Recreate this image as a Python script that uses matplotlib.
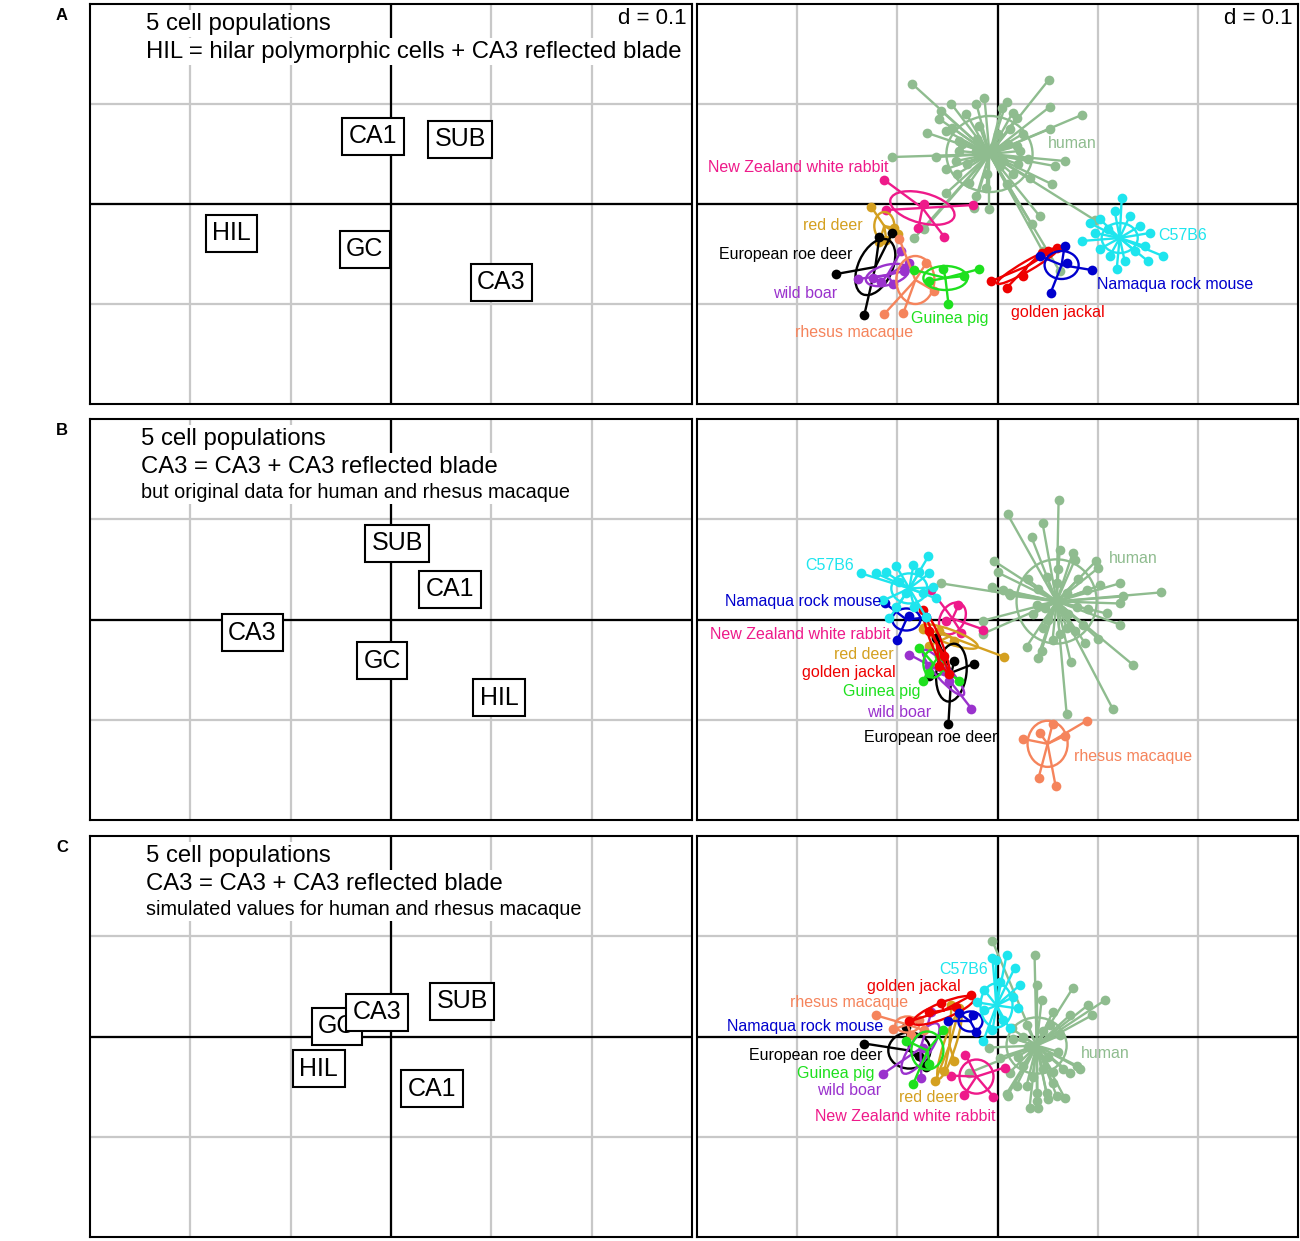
import numpy as np
import matplotlib
matplotlib.use("Agg")
import matplotlib.pyplot as plt
from matplotlib.patches import Ellipse

plt.rcParams["font.family"] = ["Liberation Sans", "DejaVu Sans"]

# ---------------- data: left panels (cell populations) ----------------
cell_names = ["CA1", "CA3", "GC", "HIL", "SUB"]
cellsA_x = [-0.018, 0.110, -0.026, -0.159, 0.069]
cellsA_y = [0.068, -0.078, -0.045, -0.029, 0.065]
cellsB_x = [0.059, -0.138, -0.009, 0.108, 0.006]
cellsB_y = [0.030, -0.013, -0.041, -0.078, 0.076]
cellsC_x = [0.041, -0.014, -0.054, -0.072, 0.071]
cellsC_y = [-0.052, 0.024, 0.010, -0.032, 0.035]

notes_A = ["5 cell populations", "HIL = hilar polymorphic cells + CA3 reflected blade"]
notes_B = ["5 cell populations", "CA3 = CA3 + CA3 reflected blade",
           "but original data for human and rhesus macaque"]
notes_C = ["5 cell populations", "CA3 = CA3 + CA3 reflected blade",
           "simulated values for human and rhesus macaque"]

species = ["human", "New Zealand white rabbit", "red deer", "European roe deer",
           "wild boar", "rhesus macaque", "Guinea pig", "golden jackal",
           "Namaqua rock mouse", "C57B6"]

# ---------------- data: panel A (right) ----------------
A_human = [(-0.085, 0.120), (0.051, 0.124), (0.052, 0.097), (0.084, 0.089), (0.052, 0.075),
           (0.067, 0.043), (0.057, 0.038), (0.054, 0.020), (0.042, -0.012), (0.034, -0.020),
           (0.097, -0.016), (-0.105, 0.047), (-0.061, 0.047), (-0.070, 0.071), (-0.046, 0.100),
           (-0.021, 0.100), (-0.013, 0.106), (0.009, 0.102), (0.015, 0.091), (0.019, 0.086),
           (-0.056, 0.093), (-0.058, 0.085), (-0.031, 0.090), (-0.051, 0.073), (-0.051, 0.035),
           (-0.041, 0.043), (-0.051, 0.011), (-0.021, 0.008), (-0.023, -0.004), (-0.008, -0.005),
           (-0.028, 0.021), (-0.011, 0.016), (0.009, 0.020), (0.019, 0.058), (0.025, 0.070),
           (0.004, 0.096), (-0.018, 0.078), (-0.038, 0.063), (0.005, 0.043), (0.015, 0.030),
           (0.032, 0.026), (-0.045, 0.076), (-0.021, 0.053), (-0.083, -0.034), (-0.073, -0.025),
           (0.045, -0.047), (0.062, -0.067), (-0.003, 0.058), (-0.013, 0.048), (0.002, 0.038),
           (0.022, 0.053), (-0.038, 0.053), (-0.030, 0.040), (0.010, 0.060), (-0.020, 0.065),
           (0.000, 0.070), (-0.040, 0.030), (0.020, 0.040), (-0.010, 0.030), (0.030, 0.045),
           (-0.035, 0.060), (0.012, 0.075)]
A_rabbit = [(-0.113, 0.024), (-0.024, -0.001), (-0.111, -0.006), (-0.073, 0.000),
            (-0.079, -0.024), (-0.053, -0.033)]
A_reddeer = [(-0.126, -0.003), (-0.103, -0.024), (-0.099, -0.030), (-0.118, -0.038), (-0.111, -0.036)]
A_roedeer = [(-0.161, -0.070), (-0.133, -0.111), (-0.118, -0.033), (-0.105, -0.029)]
A_boar = [(-0.139, -0.075), (-0.124, -0.074), (-0.116, -0.078), (-0.104, -0.080),
          (-0.093, -0.067), (-0.096, -0.047), (-0.088, -0.059)]
A_rhesus = [(-0.098, -0.035), (-0.113, -0.110), (-0.094, -0.109), (-0.071, -0.059), (-0.063, -0.087)]
A_guinea = [(-0.083, -0.066), (-0.018, -0.065), (-0.033, -0.072), (-0.049, -0.100),
            (-0.054, -0.065), (-0.068, -0.077)]
A_jackal = [(-0.006, -0.077), (0.009, -0.084), (0.025, -0.072), (0.044, -0.049),
            (0.059, -0.044), (0.050, -0.047)]
A_namaqua = [(0.067, -0.042), (0.094, -0.066), (0.053, -0.089), (0.069, -0.059), (0.042, -0.052)]
A_c57 = [(0.124, 0.006), (0.165, -0.052), (0.084, -0.037), (0.119, -0.065), (0.092, -0.019),
         (0.102, -0.015), (0.142, -0.022), (0.147, -0.042), (0.137, -0.047), (0.112, -0.052),
         (0.127, -0.057), (0.102, -0.045), (0.152, -0.029), (0.132, -0.012), (0.110, -0.025),
         (0.117, -0.007), (0.150, -0.057), (0.097, -0.029)]
A_centers = {"human": (-0.008, 0.050), "New Zealand white rabbit": (-0.075, -0.004),
             "red deer": (-0.113, -0.022), "European roe deer": (-0.122, -0.063),
             "wild boar": (-0.110, -0.071), "rhesus macaque": (-0.082, -0.076),
             "Guinea pig": (-0.052, -0.074), "golden jackal": (0.030, -0.062),
             "Namaqua rock mouse": (0.064, -0.061), "C57B6": (0.122, -0.034)}
A_ellipses = {"human": (0.043, 0.038, 0), "New Zealand white rabbit": (0.033, 0.015, -15),
              "red deer": (0.010, 0.014, 0), "European roe deer": (0.030, 0.017, 65),
              "wild boar": (0.022, 0.010, 15), "rhesus macaque": (0.019, 0.024, 0),
              "Guinea pig": (0.022, 0.012, 0), "golden jackal": (0.035, 0.005, 30),
              "Namaqua rock mouse": (0.017, 0.014, 0), "C57B6": (0.018, 0.015, 0)}
A_labels = {"human": (0.075, 0.060), "New Zealand white rabbit": (-0.199, 0.037),
            "red deer": (-0.164, -0.021), "European roe deer": (-0.211, -0.051),
            "wild boar": (-0.192, -0.089), "rhesus macaque": (-0.143, -0.129),
            "Guinea pig": (-0.048, -0.115), "golden jackal": (0.060, -0.109),
            "Namaqua rock mouse": (0.177, -0.080), "C57B6": (0.185, -0.031)}

# ---------------- data: panel B (right) ----------------
B_human = [(0.061, 0.119), (0.010, 0.105), (0.045, 0.096), (0.034, 0.082), (0.062, 0.069),
           (0.075, 0.066), (0.077, 0.059), (0.098, 0.058), (0.100, 0.051), (-0.003, 0.058),
           (0.000, 0.047), (-0.005, 0.032), (0.122, 0.036), (0.163, 0.027), (0.125, 0.023),
           (0.122, 0.016), (0.102, 0.034), (0.012, 0.024), (0.005, 0.029), (0.039, 0.014),
           (0.109, 0.006), (0.122, -0.005), (0.100, -0.019), (0.087, -0.023), (0.135, -0.045),
           (0.115, -0.089), (0.069, -0.094), (0.073, -0.042), (0.029, -0.027), (0.044, -0.031),
           (0.040, -0.038), (0.062, -0.014), (0.045, -0.008), (0.077, -0.011), (0.069, -0.008),
           (0.049, 0.042), (0.089, 0.029), (0.059, 0.036), (0.079, 0.012), (0.047, 0.011),
           (0.069, 0.026), (-0.056, 0.036), (-0.014, -0.001), (-0.014, -0.014), (0.011, 0.026),
           (0.040, 0.030), (0.070, 0.005), (0.050, 0.000), (0.080, 0.040), (0.030, 0.040),
           (0.060, 0.050), (0.090, 0.010), (0.035, 0.005), (0.055, -0.020), (0.085, -0.005)]
B_rhesus = [(0.025, -0.119), (0.089, -0.101), (0.055, -0.104), (0.041, -0.158),
            (0.058, -0.166), (0.067, -0.116), (0.042, -0.113)]
B_c57 = [(-0.069, 0.063), (-0.101, 0.053), (-0.136, 0.046), (-0.121, 0.046), (-0.111, 0.047),
         (-0.084, 0.054), (-0.078, 0.047), (-0.068, 0.046), (-0.064, 0.032), (-0.061, 0.021),
         (-0.101, 0.012), (-0.108, 0.001), (-0.114, 0.019), (-0.071, 0.002), (-0.091, 0.026),
         (-0.074, 0.026), (-0.098, 0.037), (-0.083, 0.012)]
B_namaqua = [(-0.112, 0.016), (-0.100, -0.020), (-0.088, 0.003), (-0.071, 0.002)]
B_rabbit = [(-0.066, 0.029), (-0.039, 0.014), (-0.014, -0.010), (-0.051, -0.001), (-0.036, -0.013)]
B_reddeer = [(-0.074, -0.009), (0.006, -0.037), (-0.058, -0.011), (-0.043, -0.021), (-0.068, -0.026)]
B_jackal = [(-0.074, 0.009), (-0.048, -0.054), (-0.068, -0.011), (-0.053, -0.036), (-0.058, -0.046)]
B_guinea = [(-0.078, -0.028), (-0.074, -0.061), (-0.038, -0.061), (-0.058, -0.036), (-0.068, -0.053)]
B_boar = [(-0.088, -0.035), (-0.026, -0.089), (-0.068, -0.046), (-0.048, -0.061), (-0.053, -0.051)]
B_roedeer = [(-0.023, -0.044), (-0.049, -0.104), (-0.068, -0.056), (-0.061, -0.018), (-0.043, -0.041)]
B_centers = {"human": (0.059, 0.018), "New Zealand white rabbit": (-0.045, 0.001),
             "red deer": (-0.048, -0.017), "European roe deer": (-0.046, -0.053),
             "wild boar": (-0.054, -0.053), "rhesus macaque": (0.050, -0.124),
             "Guinea pig": (-0.064, -0.044), "golden jackal": (-0.061, -0.023),
             "Namaqua rock mouse": (-0.091, 0.000), "C57B6": (-0.088, 0.031)}
B_ellipses = {"human": (0.040, 0.042, 0), "New Zealand white rabbit": (0.017, 0.012, 60),
              "red deer": (0.030, 0.007, -20), "European roe deer": (0.029, 0.015, 83),
              "wild boar": (0.030, 0.007, -48), "rhesus macaque": (0.020, 0.023, 0),
              "Guinea pig": (0.010, 0.014, 0), "golden jackal": (0.032, 0.005, -68),
              "Namaqua rock mouse": (0.014, 0.011, 0), "C57B6": (0.018, 0.015, 0)}
B_labels = {"human": (0.136, 0.061), "New Zealand white rabbit": (-0.197, -0.015),
            "red deer": (-0.133, -0.035), "European roe deer": (-0.067, -0.118),
            "wild boar": (-0.098, -0.093), "rhesus macaque": (0.135, -0.137),
            "Guinea pig": (-0.116, -0.072), "golden jackal": (-0.148, -0.053),
            "Namaqua rock mouse": (-0.194, 0.018), "C57B6": (-0.168, 0.054)}

# ---------------- data: panel C (right) ----------------
C_human = [(-0.005, 0.095), (0.037, 0.081), (0.039, 0.051), (0.075, 0.048), (0.107, 0.036),
           (0.090, 0.031), (0.094, 0.021), (0.072, 0.021), (0.055, 0.024), (0.044, 0.036),
           (0.079, -0.029), (0.082, -0.032), (0.067, -0.061), (0.050, -0.062), (0.039, -0.064),
           (0.032, -0.071), (0.040, -0.071), (0.010, -0.059), (0.019, -0.049), (-0.008, -0.011),
           (-0.028, -0.036), (0.012, -0.036), (0.002, -0.021), (0.029, -0.049), (0.055, -0.046),
           (0.065, -0.032), (0.015, -0.002), (0.062, 0.001), (0.052, 0.011), (0.029, 0.011),
           (0.025, -0.029), (0.045, -0.032), (0.039, -0.056), (0.049, -0.056), (0.059, -0.059),
           (0.072, -0.036), (0.014, 0.008), (0.009, -0.057), (0.030, -0.010), (0.050, -0.020),
           (0.045, 0.005), (0.020, -0.020), (0.060, -0.015), (0.035, -0.040), (0.025, 0.000),
           (0.055, -0.035)]
C_c57 = [(-0.005, 0.078), (0.009, 0.081), (0.017, 0.068), (-0.013, 0.046), (0.015, 0.039),
         (0.012, 0.008), (-0.005, 0.006), (0.005, 0.016), (-0.013, 0.026), (-0.020, 0.034),
         (0.020, 0.028), (0.002, 0.054), (-0.001, 0.076), (-0.014, -0.004), (0.022, 0.051)]
C_jackal = [(-0.026, 0.041), (-0.056, 0.033), (-0.088, 0.015), (-0.041, 0.029), (-0.068, 0.024)]
C_namaqua = [(-0.049, 0.015), (-0.021, 0.004), (-0.038, 0.023), (-0.024, 0.021)]
C_rhesus = [(-0.121, 0.021), (-0.104, 0.007), (-0.073, 0.006), (-0.078, 0.016), (-0.086, 0.001)]
C_roedeer = [(-0.133, -0.007), (-0.071, -0.030), (-0.091, 0.009), (-0.078, -0.019)]
C_guinea = [(-0.084, -0.047), (-0.054, 0.006), (-0.091, -0.004), (-0.068, -0.027)]
C_boar = [(-0.114, -0.037), (-0.076, -0.041), (-0.066, 0.024), (-0.074, -0.011)]
C_reddeer = [(-0.062, -0.044), (-0.043, -0.024), (-0.038, 0.028), (-0.046, 0.031), (-0.053, -0.034)]
C_rabbit = [(-0.032, -0.018), (0.007, -0.031), (-0.004, -0.060), (-0.033, -0.058), (-0.046, -0.039)]
C_centers = {"human": (0.039, -0.009), "New Zealand white rabbit": (-0.021, -0.040),
             "red deer": (-0.048, -0.009), "European roe deer": (-0.088, -0.014),
             "wild boar": (-0.077, -0.012), "rhesus macaque": (-0.090, 0.012),
             "Guinea pig": (-0.070, -0.014), "golden jackal": (-0.054, 0.026),
             "Namaqua rock mouse": (-0.027, 0.015), "C57B6": (-0.001, 0.031)}
C_ellipses = {"human": (0.030, 0.028, 0), "New Zealand white rabbit": (0.017, 0.017, 0),
              "red deer": (0.035, 0.006, 72), "European roe deer": (0.021, 0.018, 0),
              "wild boar": (0.030, 0.010, 55), "rhesus macaque": (0.012, 0.008, 0),
              "Guinea pig": (0.016, 0.019, 0), "golden jackal": (0.033, 0.008, 22),
              "Namaqua rock mouse": (0.012, 0.010, 0), "C57B6": (0.016, 0.022, 0)}
C_labels = {"human": (0.108, -0.017), "New Zealand white rabbit": (-0.092, -0.080),
            "red deer": (-0.069, -0.061), "European roe deer": (-0.182, -0.019),
            "wild boar": (-0.148, -0.054), "rhesus macaque": (-0.148, 0.034),
            "Guinea pig": (-0.161, -0.037), "golden jackal": (-0.084, 0.050),
            "Namaqua rock mouse": (-0.192, 0.010), "C57B6": (-0.034, 0.067)}

# ---------------- styles ----------------
colors = {"human": "#8FBC8F", "New Zealand white rabbit": "#EE1A8A", "red deer": "#D4A020",
          "European roe deer": "#000000", "wild boar": "#9A32CD", "rhesus macaque": "#F5845C",
          "Guinea pig": "#1EE01E", "golden jackal": "#EE0000", "Namaqua rock mouse": "#0000CD",
          "C57B6": "#1EE5EE"}

GRID = "#C8C8C8"

fig = plt.figure(figsize=(13.0, 12.41), dpi=100)

rows = [(4, 404), (419, 820), (836, 1237)]
H = 1241.0
W = 1300.0


def make_ax(x0, x1, y0, y1):
    ax = fig.add_axes([x0 / W, 1 - y1 / H, (x1 - x0) / W, (y1 - y0) / H])
    ax.set_xlim(-0.3, 0.3)
    ax.set_ylim(-0.2, 0.2)
    ax.set_xticks(np.arange(-0.2, 0.21, 0.1))
    ax.set_yticks(np.arange(-0.1, 0.11, 0.1))
    ax.grid(True, color=GRID, lw=1.6, zorder=0)
    ax.tick_params(length=0, labelbottom=False, labelleft=False)
    ax.axhline(0, color="black", lw=1.6, zorder=1)
    ax.axvline(0, color="black", lw=1.6, zorder=1)
    for s in ax.spines.values():
        s.set_linewidth(1.5)
    ax.set_axisbelow(True)
    return ax


def draw_cells(ax, xs, ys, order):
    for k, name in enumerate(order):
        i = cell_names.index(name)
        ax.text(xs[i], ys[i], name, ha="center", va="center", fontsize=18, zorder=5 + k,
                bbox=dict(boxstyle="square,pad=0.26", fc="white", ec="black", lw=1.5))


def draw_notes(ax, lines, x):
    ys = [0.951, 0.881, 0.817]
    for k, t in enumerate(lines):
        fs = 17.2 if k < 2 else 14.3
        ax.text(x, ys[k], t, transform=ax.transAxes, ha="left", va="center", fontsize=fs,
                zorder=10, bbox=dict(boxstyle="square,pad=0.12", fc="white", ec="none"))


def draw_species(ax, pts, centers, ells, labels):
    for k, sp in enumerate(species):
        z = 3 + k * 0.05
        p = np.array(pts[sp])
        cx, cy = centers[sp]
        col = colors[sp]
        for x, y in p:
            ax.plot([cx, x], [cy, y], color=col, lw=1.7, zorder=z)
        ax.plot(p[:, 0], p[:, 1], "o", color=col, ms=7, mec="none", zorder=z + 0.01)
        a, b, ang = ells[sp]
        ax.add_patch(Ellipse((cx, cy), 2 * a, 2 * b, angle=ang, fill=False, ec=col,
                             lw=1.7, zorder=z + 0.02))
    for sp in species:
        lx, ly = labels[sp]
        ax.text(lx, ly, sp, color=colors[sp], fontsize=11.5, ha="center", va="center", zorder=20)


pts_A = dict(zip(species, [A_human, A_rabbit, A_reddeer, A_roedeer, A_boar, A_rhesus,
                           A_guinea, A_jackal, A_namaqua, A_c57]))
pts_B = dict(zip(species, [B_human, B_rabbit, B_reddeer, B_roedeer, B_boar, B_rhesus,
                           B_guinea, B_jackal, B_namaqua, B_c57]))
pts_C = dict(zip(species, [C_human, C_rabbit, C_reddeer, C_roedeer, C_boar, C_rhesus,
                           C_guinea, C_jackal, C_namaqua, C_c57]))

cells = [(cellsA_x, cellsA_y), (cellsB_x, cellsB_y), (cellsC_x, cellsC_y)]
notes = [notes_A, notes_B, notes_C]
note_x = [0.093, 0.085, 0.093]
species_sets = [(pts_A, A_centers, A_ellipses, A_labels),
                (pts_B, B_centers, B_ellipses, B_labels),
                (pts_C, C_centers, C_ellipses, C_labels)]
letters = ["A", "B", "C"]
cell_order = ["CA1", "SUB", "HIL", "GC", "CA3"]

for r, (y0, y1) in enumerate(rows):
    axL = make_ax(90, 692, y0, y1)
    axR = make_ax(697, 1298, y0, y1)
    draw_cells(axL, cells[r][0], cells[r][1], cell_order)
    draw_notes(axL, notes[r], note_x[r])
    draw_species(axR, *species_sets[r])
    if r == 0:
        for ax in (axL, axR):
            ax.text(0.991, 0.963, "d = 0.1", transform=ax.transAxes, ha="right",
                    va="center", fontsize=16, zorder=10,
                    bbox=dict(boxstyle="square,pad=0.1", fc="white", ec="none"))
    fig.text(62 / W, 1 - (y0 + 11) / H, letters[r], fontsize=12, fontweight="bold",
             ha="center", va="center")

fig.savefig("out.png", dpi=100)
